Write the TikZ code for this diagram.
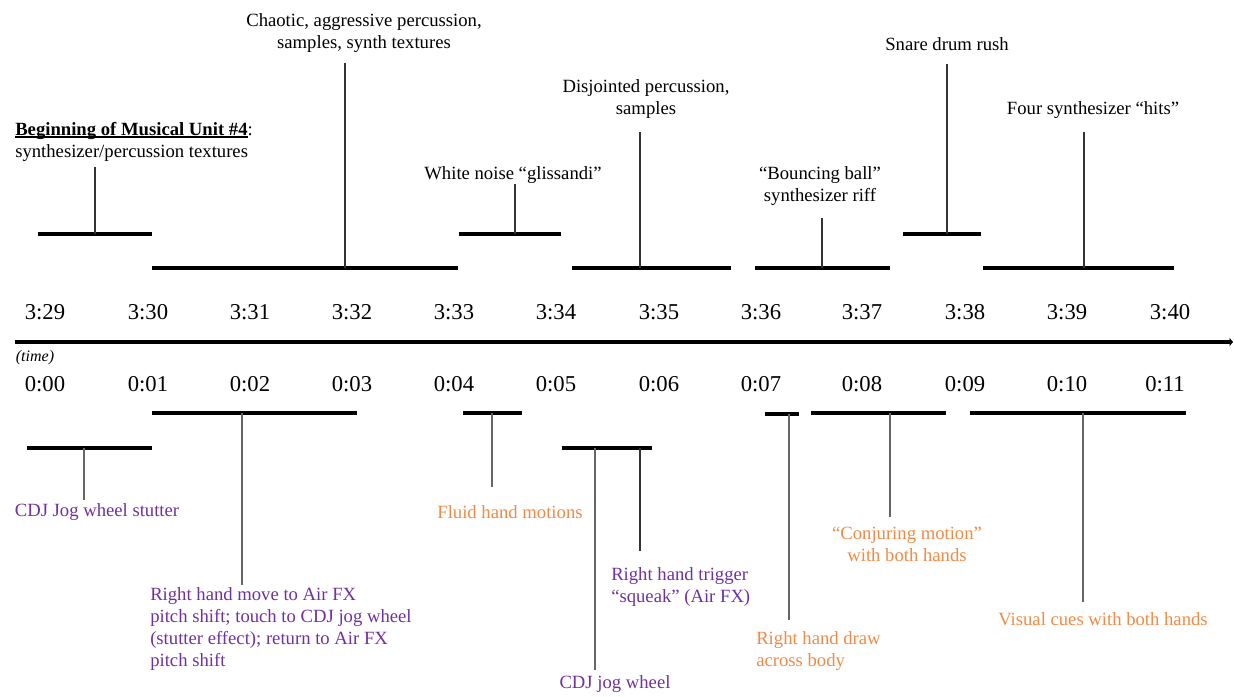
\documentclass[tikz,border=0pt]{standalone}
\usepackage{fontspec}
\setmainfont{Liberation Serif}
\usetikzlibrary{arrows.meta}
\definecolor{dpurple}{HTML}{7030A0}
\definecolor{dorange}{HTML}{F28A46}
\definecolor{vgrey}{HTML}{666666}
\tikzset{
  barline/.style={line width=2.3pt, black},
  toplead/.style={line width=0.8pt, black!80},
  botlead/.style={line width=1pt, vgrey},
  ann/.style={inner sep=0pt, font=\fontsize{14}{16.5}\selectfont},
  tl/.style={inner sep=0pt, font=\fontsize{17}{20}\selectfont},
  pur/.style={ann, text=dpurple},
  ora/.style={ann, text=dorange},
}
\newcommand{\myul}[1]{\setbox0\hbox{#1}\rlap{\rule[-1.6pt]{\wd0}{1.1pt}}#1}
\begin{document}
\begin{tikzpicture}[x=0.75pt,y=-0.75pt]
\useasboundingbox (0,0) rectangle (1234,696);
% axis
\coordinate (ax0) at (15,342);
\coordinate (ax1) at (1233,342);
\draw[line width=2.3pt, -{Latex[length=2.5pt,width=7pt]}] (ax0) -- (ax1);
\node[inner sep=0pt, font=\fontsize{12}{14}\selectfont\itshape] (timelbl) at (35,358) {(time)};
% time labels
\foreach \i/\x/\t in {0/45/3:29,1/148/3:30,2/250/3:31,3/352/3:32,4/454/3:33,5/556/3:34,6/659/3:35,7/761/3:36,8/862/3:37,9/965/3:38,10/1067/3:39,11/1170/3:40}
  \node[tl] (T\i) at (\x,312) {\t};
\foreach \i/\x/\t in {0/45/0:00,1/148/0:01,2/250/0:02,3/352/0:03,4/454/0:04,5/556/0:05,6/659/0:06,7/761/0:07,8/862/0:08,9/965/0:09,10/1067/0:10,11/1165/0:11}
  \node[tl] (B\i) at (\x,384) {\t};

% ---------- top ----------
% 1
\node[ann, anchor=west, align=left] (u1) at (15,142) {\myul{\textbf{Beginning of Musical Unit \#4}}:\\synthesizer/percussion textures};
\coordinate (u1a) at (38,234); \coordinate (u1b) at (152,234);
\coordinate (u1m) at (95,234); \coordinate (u1t) at (95,167);
\draw[barline] (u1a) -- (u1b);
\draw[toplead] (u1m) -- (u1t);
% 2
\node[ann, align=center] (u2) at (364,33) {Chaotic, aggressive percussion,\\samples, synth textures};
\coordinate (u2a) at (152,268); \coordinate (u2b) at (458,268);
\coordinate (u2m) at (345,268); \coordinate (u2t) at (345,63);
\draw[barline] (u2a) -- (u2b);
\draw[toplead] (u2m) -- (u2t);
% 3
\node[ann] (u3) at (513,175) {White noise ``glissandi''};
\coordinate (u3a) at (459,234); \coordinate (u3b) at (561,234);
\coordinate (u3m) at (515,234); \coordinate (u3t) at (515,184);
\draw[barline] (u3a) -- (u3b);
\draw[toplead] (u3m) -- (u3t);
% 4
\node[ann, align=center] (u4) at (646,99) {Disjointed percussion,\\samples};
\coordinate (u4a) at (572,268); \coordinate (u4b) at (731,268);
\coordinate (u4m) at (640,268); \coordinate (u4t) at (640,132);
\draw[barline] (u4a) -- (u4b);
\draw[toplead] (u4m) -- (u4t);
% 5
\node[ann, align=center] (u5) at (820,186) {``Bouncing ball''\\synthesizer riff};
\coordinate (u5a) at (755,268); \coordinate (u5b) at (890,268);
\coordinate (u5m) at (822,268); \coordinate (u5t) at (822,218);
\draw[barline] (u5a) -- (u5b);
\draw[toplead] (u5m) -- (u5t);
% 6
\node[ann] (u6) at (947,44) {Snare drum rush};
\coordinate (u6a) at (903,234); \coordinate (u6b) at (981,234);
\coordinate (u6m) at (947,234); \coordinate (u6t) at (947,64);
\draw[barline] (u6a) -- (u6b);
\draw[toplead] (u6m) -- (u6t);
% 7
\node[ann] (u7) at (1093,110) {Four synthesizer ``hits''};
\coordinate (u7a) at (983,268); \coordinate (u7b) at (1174,268);
\coordinate (u7m) at (1084,268); \coordinate (u7t) at (1084,132);
\draw[barline] (u7a) -- (u7b);
\draw[toplead] (u7m) -- (u7t);

% ---------- bottom ----------
% a
\node[pur] (b1) at (97,512) {CDJ Jog wheel stutter};
\coordinate (b1a) at (27,448); \coordinate (b1b) at (152,448);
\coordinate (b1m) at (84,448); \coordinate (b1t) at (84,500);
\draw[barline] (b1a) -- (b1b);
\draw[botlead] (b1m) -- (b1t);
% b
\node[pur, anchor=west, align=left] (b2) at (150,629.5) {Right hand move to Air FX\\pitch shift; touch to CDJ jog wheel\\(stutter effect); return to Air FX\\pitch shift};
\coordinate (b2a) at (152,413); \coordinate (b2b) at (357,413);
\coordinate (b2m) at (242,413); \coordinate (b2t) at (242,585);
\draw[barline] (b2a) -- (b2b);
\draw[botlead] (b2m) -- (b2t);
% c
\node[ora] (b3) at (510,512) {Fluid hand motions};
\coordinate (b3a) at (463,413); \coordinate (b3b) at (522,413);
\coordinate (b3m) at (492,413); \coordinate (b3t) at (492,487);
\draw[barline] (b3a) -- (b3b);
\draw[botlead] (b3m) -- (b3t);
% d
\node[pur] (b4) at (615,684) {CDJ jog wheel};
\node[pur, anchor=west, align=left] (b5) at (611,587.5) {Right hand trigger\\``squeak'' (Air FX)};
\coordinate (b4a) at (562,448); \coordinate (b4b) at (652,448);
\coordinate (b4m) at (595,448); \coordinate (b4t) at (595,670);
\coordinate (b5m) at (640,448); \coordinate (b5t) at (640,551);
\draw[barline] (b4a) -- (b4b);
\draw[botlead] (b4m) -- (b4t);
\draw[toplead] (b5m) -- (b5t);
% e
\node[ora, anchor=west, align=left] (b6) at (756,651) {Right hand draw\\across body};
\coordinate (b6a) at (765,414); \coordinate (b6b) at (799,414);
\coordinate (b6m) at (789,414); \coordinate (b6t) at (789,620);
\draw[barline] (b6a) -- (b6b);
\draw[botlead] (b6m) -- (b6t);
% f
\node[ora, align=center] (b7) at (907,544.5) {``Conjuring motion''\\with both hands};
\coordinate (b7a) at (811,413); \coordinate (b7b) at (946,413);
\coordinate (b7m) at (890,413); \coordinate (b7t) at (890,517);
\draw[barline] (b7a) -- (b7b);
\draw[botlead] (b7m) -- (b7t);
% g
\node[ora] (b8) at (1103,619) {Visual cues with both hands};
\coordinate (b8a) at (970,413); \coordinate (b8b) at (1186,413);
\coordinate (b8m) at (1083,413); \coordinate (b8t) at (1083,602);
\draw[barline] (b8a) -- (b8b);
\draw[botlead] (b8m) -- (b8t);
\end{tikzpicture}
\end{document}
